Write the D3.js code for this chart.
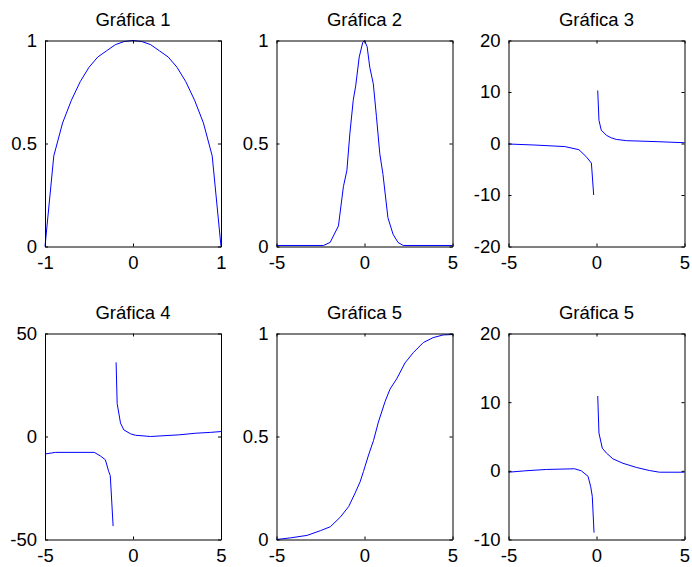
<!DOCTYPE html>
<html>
<head>
<meta charset="utf-8">
<script src="https://cdn.jsdelivr.net/npm/d3@7"></script>
<style>
  body { margin: 0; background: #fff; }
  svg text { font-family: "Liberation Sans", Arial, sans-serif; fill: #000; }
</style>
</head>
<body>
<div id="fig"></div>
<script>
// values (null = break in the line)

var titles = ["Gráfica 1", "Gráfica 2", "Gráfica 3", "Gráfica 4", "Gráfica 5", "Gráfica 5"];

var x1 = [-1, -0.9, -0.8, -0.7, -0.6, -0.5, -0.4, -0.3, -0.2, -0.1, 0, 0.1, 0.2, 0.3, 0.4, 0.5, 0.6, 0.7, 0.8, 0.9, 1];
var y1 = [0, 0.44, 0.6, 0.71, 0.8, 0.87, 0.92, 0.95, 0.98, 0.995, 1, 0.995, 0.98, 0.95, 0.92, 0.87, 0.8, 0.71, 0.6, 0.44, 0];

var x2 = [-5, -2.33, -1.95, -1.48, -1.2, -1.0, -0.83, -0.64, -0.5, -0.3, -0.1, 0, 0.15, 0.3, 0.5, 0.68, 0.87, 1.05, 1.33, 1.62, 1.9, 2.2, 5];
var y2 = [0.005, 0.005, 0.02, 0.1, 0.29, 0.37, 0.55, 0.71, 0.78, 0.92, 0.99, 1, 0.97, 0.87, 0.79, 0.63, 0.45, 0.35, 0.14, 0.06, 0.02, 0.005, 0.005];

var x3 = [-5, -3.5, -1.8, -1.0, -0.6, -0.29, -0.16, 0, 0.07, 0.14, 0.27, 0.56, 0.84, 1.12, 1.7, 3.5, 5];
var y3 = [-0.1, -0.3, -0.6, -1.2, -2.5, -3.8, -10, null, 10.3, 4.5, 2.6, 1.6, 1.1, 0.8, 0.55, 0.35, 0.15];

var x4 = [-5, -4.4, -2.2, -1.86, -1.57, -1.38, -1.29, -1.13, -1.05, -0.96, -0.9, -0.71, -0.52, -0.14, 0.14, 1, 2.6, 3.57, 4.4, 5];
var y4 = [-8.5, -7.7, -7.7, -9.4, -11.3, -17, -19, -43.5, null, 36, 16, 6.5, 3.2, 1.3, 0.6, 0, 0.8, 1.6, 2, 2.4];

var x5 = [-5, -4.2, -3.26, -2.5, -1.94, -1.38, -0.9, -0.53, -0.25, -0.06, 0.23, 0.51, 0.79, 1.17, 1.45, 1.83, 2.3, 2.77, 3.34, 3.9, 4.47, 5];
var y5 = [0, 0.008, 0.02, 0.043, 0.062, 0.108, 0.16, 0.226, 0.28, 0.33, 0.41, 0.48, 0.57, 0.67, 0.73, 0.78, 0.857, 0.907, 0.956, 0.98, 0.993, 0.995];

var x6 = [-5, -4.07, -2.85, -1.24, -0.86, -0.48, -0.33, -0.24, -0.14, 0, 0.07, 0.14, 0.33, 0.56, 0.93, 1.5, 2.26, 3.0, 3.58, 5];
var y6 = [-0.2, 0, 0.2, 0.3, 0, -0.8, -2.3, -3.7, -9, null, 10.9, 5.5, 3.3, 2.6, 1.75, 1.1, 0.5, 0.05, -0.2, -0.2];

var xs = [x1, x2, x3, x4, x5, x6];
var ys = [y1, y2, y3, y4, y5, y6];

var xDomains = [[-1, 1], [-5, 5], [-5, 5], [-5, 5], [-5, 5], [-5, 5]];
var yDomains = [[0, 1], [0, 1], [-20, 20], [-50, 50], [0, 1], [-10, 20]];

var xTicks = [[-1, 0, 1], [-5, 0, 5], [-5, 0, 5], [-5, 0, 5], [-5, 0, 5], [-5, 0, 5]];
var yTicks = [[0, 0.5, 1], [0, 0.5, 1], [-20, -10, 0, 10, 20], [-50, 0, 50], [0, 0.5, 1], [-10, 0, 10, 20]];

var W = 692, H = 567;
var colLeft = [45, 276.5, 508.5];
var rowTop = [40.5, 333.5];
var pw = 176, ph = 206;
var tickLen = 3;
var fmt = function(d) { return String(d); }; // plain hyphen minus, like the original

var svg = d3.select("#fig").append("svg").attr("width", W).attr("height", H);

titles.forEach(function(t, i) {
	var left = colLeft[i % 3], top = rowTop[Math.floor(i / 3)];
	var x = d3.scaleLinear().domain(xDomains[i]).range([0, pw]);
	var y = d3.scaleLinear().domain(yDomains[i]).range([ph, 0]);

	var g = svg.append("g").attr("transform", "translate(" + left + "," + top + ")");

	var pts = xs[i].map(function(v, j) { return [v, ys[i][j]]; });
	var line = d3.line()
		.defined(function(d) { return d[1] != null; })
		.x(function(d) { return x(d[0]); })
		.y(function(d) { return y(d[1]); });

	g.append("path").datum(pts)
		.attr("d", line)
		.attr("fill", "none")
		.attr("stroke", "#0000ff")
		.attr("stroke-width", 1);

	// axes, ticks pointing inward on all four sides (box on)
	var axB = d3.axisBottom(x).tickValues(xTicks[i]).tickSizeInner(-tickLen).tickSizeOuter(0).tickPadding(9).tickFormat(fmt);
	var axT = d3.axisTop(x).tickValues(xTicks[i]).tickSizeInner(-tickLen).tickSizeOuter(0).tickFormat("");
	var axL = d3.axisLeft(y).tickValues(yTicks[i]).tickSizeInner(-tickLen).tickSizeOuter(0).tickPadding(8).tickFormat(fmt);
	var axR = d3.axisRight(y).tickValues(yTicks[i]).tickSizeInner(-tickLen).tickSizeOuter(0).tickFormat("");

	g.append("g").attr("transform", "translate(0," + ph + ")").call(axB);
	g.append("g").call(axT);
	g.append("g").call(axL);
	g.append("g").attr("transform", "translate(" + pw + ",0)").call(axR);

	g.selectAll(".domain").attr("stroke", "#000");
	g.selectAll(".tick line").attr("stroke", "#000");
	g.selectAll(".tick text").attr("font-size", 18.5).attr("font-family", "Liberation Sans, Arial, sans-serif").attr("fill", "#000");

	g.append("text")
		.attr("x", pw / 2)
		.attr("y", -15)
		.attr("text-anchor", "middle")
		.attr("font-size", 18.5)
		.text(t);
});
</script>
</body>
</html>
